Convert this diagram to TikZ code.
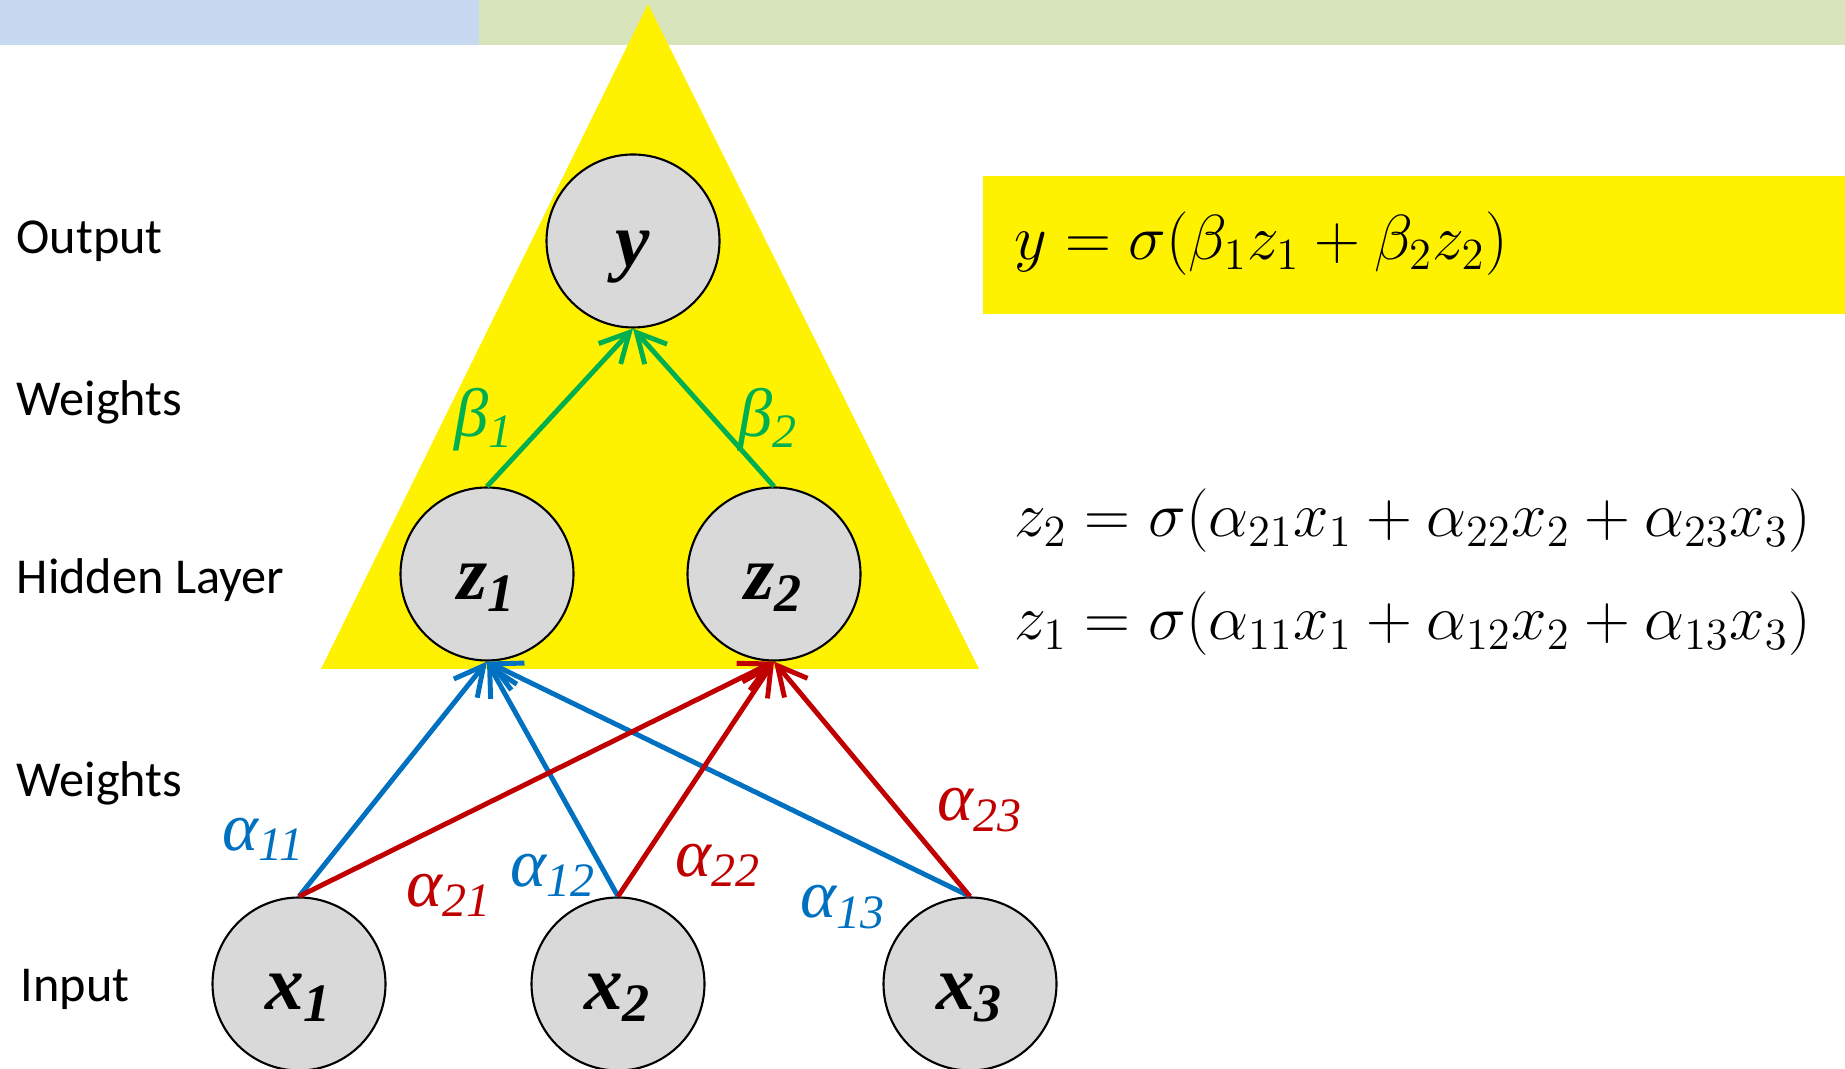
\RequirePackage{fix-cm}
\documentclass[tikz,border=0pt]{standalone}
\usepackage{fontspec}
\usetikzlibrary{arrows.meta}

\newfontfamily\layerfont{Carlito}
\newfontfamily\timesfont{Liberation Serif}

\definecolor{barblue}{RGB}{198,217,241}
\definecolor{bargreen}{RGB}{216,228,188}
\definecolor{wblue}{RGB}{0,112,192}
\definecolor{wred}{RGB}{192,0,0}
\definecolor{wgreen}{RGB}{0,176,80}
\definecolor{unitgray}{RGB}{217,217,217}

\begin{document}
\begin{tikzpicture}[
  unit/.style={circle, draw, line width=0.6pt, fill=unitgray, minimum size=1.73cm,
    inner sep=0pt, text height=0.66cm, text depth=0.15cm,
    font=\timesfont\bfseries\itshape\fontsize{22}{25}\selectfont},
  layer/.style={anchor=west, inner sep=0pt, font=\layerfont\fontsize{14.3}{17}\selectfont},
  wlabel/.style={inner sep=0pt, font=\timesfont\itshape\fontsize{19.5}{22}\selectfont},
  wedge/.style={line width=1.4pt, -{Straight Barb[length=2.9mm,width=3mm]}},
  eq/.style={anchor=west, inner sep=0pt, font=\fontsize{18.1}{21}\selectfont}
]
  \useasboundingbox (0,0) rectangle (18.45,10.69);

  % Bars on top
  \fill[barblue]  (0,10.24)    rectangle (4.79,10.69);
  \fill[bargreen] (4.79,10.24) rectangle (18.45,10.69);

  % Yellow triangle and equation box
  \fill[yellow] (6.48,10.65) -- (3.21,4.00) -- (9.79,4.00) -- cycle;
  \fill[yellow] (9.83,7.55) rectangle (18.45,8.93);

  % Layer names
  \node[layer] (lout) at (0.16, 8.28) {Output};
  \node[layer] (lwtop) at (0.16, 6.67) {Weights};
  \node[layer] (lhid) at (0.16, 4.89) {Hidden Layer};
  \node[layer] (lwbot) at (0.16, 2.86) {Weights};
  \node[layer] (lin) at (0.20, 0.80) {Input};

  % Units
  \node[unit] (y)  at (6.33, 8.28) {y};
  \node[unit] (z1) at (4.87, 4.95) {z\textsubscript{1}};
  \node[unit] (z2) at (7.74, 4.95) {z\textsubscript{2}};
  \node[unit] (x1) at (2.99, 0.85) {x\textsubscript{1}};
  \node[unit] (x2) at (6.18, 0.85) {x\textsubscript{2}};
  \node[unit] (x3) at (9.70, 0.85) {x\textsubscript{3}};

  % Input to hidden
  \draw[wedge, wblue] (x1.north) -- (z1.south);
  \draw[wedge, wblue] (x2.north) -- (z1.south);
  \draw[wedge, wblue] (x3.north) -- (z1.south);
  \draw[wedge, wred]  (x1.north) -- (z2.south);
  \draw[wedge, wred]  (x2.north) -- (z2.south);
  \draw[wedge, wred]  (x3.north) -- (z2.south);

  % Hidden to output
  \draw[wedge, wgreen] (z1.north) -- (y.south);
  \draw[wedge, wgreen] (z2.north) -- (y.south);

  % Weight labels
  \node[wlabel, wblue] (a11) at (2.64, 2.30) {α\textsubscript{11}};
  \node[wlabel, wred]  (a21) at (4.49, 1.74) {α\textsubscript{21}};
  \node[wlabel, wblue] (a12) at (5.53, 1.94) {α\textsubscript{12}};
  \node[wlabel, wred]  (a22) at (7.18, 2.04) {α\textsubscript{22}};
  \node[wlabel, wblue] (a13) at (8.43, 1.62) {α\textsubscript{13}};
  \node[wlabel, wred]  (a23) at (9.80, 2.59) {α\textsubscript{23}};
  \node[wlabel, wgreen] (b1) at (4.84, 6.49) {β\textsubscript{1}};
  \node[wlabel, wgreen] (b2) at (7.68, 6.49) {β\textsubscript{2}};

  % Equations
  \node[eq] (eqy)  at (10.14, 8.25) {$y=\sigma(\beta_1z_1+\beta_2z_2)$};
  \node[eq] (eqz2) at (10.14, 5.48) {$z_2=\sigma(\alpha_{21}x_1+\alpha_{22}x_2+\alpha_{23}x_3)$};
  \node[eq] (eqz1) at (10.14, 4.45) {$z_1=\sigma(\alpha_{11}x_1+\alpha_{12}x_2+\alpha_{13}x_3)$};

\end{tikzpicture}
\end{document}
